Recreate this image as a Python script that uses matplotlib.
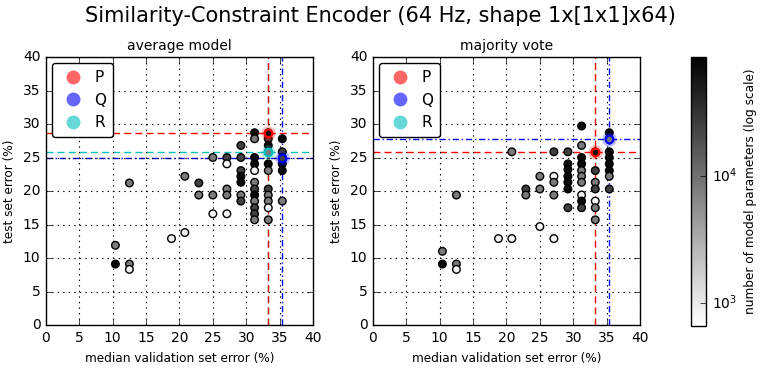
import numpy as np
import matplotlib
matplotlib.use("Agg")
import matplotlib.pyplot as plt
from matplotlib.colors import LogNorm
from matplotlib.lines import Line2D

plt.style.use("classic")
plt.rcParams["figure.facecolor"] = "white"
plt.rcParams["savefig.facecolor"] = "white"

# parameter counts used for grey shade (log scale)
W, G, D, B = 800, 8200, 25000, 70000

# average model: validation error, test error, #params
AVG_X = [10.4, 10.4, 12.5, 12.5, 12.5, 18.8, 20.8, 20.8,
         22.9, 22.9,
         25.0, 25.0, 25.0,
         27.1, 27.1, 27.1, 27.1, 27.1,
         29.2, 29.2, 29.2, 29.2, 29.2, 29.2, 29.2,
         31.25, 31.25, 31.25, 31.25, 31.25, 31.25, 31.25, 31.25, 31.25, 31.25, 31.25, 31.25,
         33.3, 33.3, 33.3, 33.3, 33.3, 33.3, 33.3, 33.3, 33.3, 33.3, 33.3,
         35.4, 35.4, 35.4, 35.4, 35.4, 35.4]
AVG_Y = [11.9, 9.1, 9.1, 8.3, 21.2, 12.9, 13.8, 22.2,
         21.2, 19.4,
         25.0, 19.4, 16.6,
         25.0, 24.05, 20.3, 19.4, 16.6,
         26.8, 25.0, 23.05, 22.2, 21.3, 19.4, 18.5,
         28.7, 27.8, 25.0, 24.05, 23.05, 21.3, 20.3, 19.4, 18.5, 17.5, 16.6, 15.7,
         28.7, 27.8, 26.8, 25.85, 24.05, 23.05, 20.3, 19.4, 18.5, 17.5, 15.7,
         27.8, 25.85, 25.0, 24.05, 23.05, 18.5]
AVG_P = [G, B, G, W, G, W, W, G,
         D, G,
         G, G, W,
         D, W, G, G, W,
         D, D, D, B, B, G, D,
         B, G, B, B, W, G, D, B, G, D, D, G,
         B, D, B, G, B, G, D, G, G, W, G,
         B, D, D, B, B, G]
# selected models, drawn in this order (last on top)
AVG_SEL = [("R", 33.3, 25.85, G), ("Q", 35.4, 25.0, D), ("P", 33.3, 28.7, B)]

# majority vote
MAJ_X = [10.4, 10.4, 12.5, 12.5, 12.5, 18.8, 20.8, 20.8,
         22.9, 22.9,
         25.0, 25.0, 25.0,
         27.1, 27.1, 27.1, 27.1, 27.1,
         29.2, 29.2, 29.2, 29.2, 29.2, 29.2, 29.2,
         31.25, 31.25, 31.25, 31.25, 31.25, 31.25, 31.25, 31.25, 31.25, 31.25,
         33.3, 33.3, 33.3, 33.3, 33.3, 33.3, 33.3,
         35.4, 35.4, 35.4, 35.4, 35.4, 35.4, 35.4, 35.4]
MAJ_Y = [11.0, 9.1, 9.1, 8.3, 19.4, 12.9, 25.85, 12.9,
         20.3, 19.4,
         22.2, 20.3, 14.7,
         25.85, 22.2, 21.3, 19.4, 12.9,
         25.85, 24.05, 23.2, 22.2, 21.3, 20.3, 17.5,
         29.7, 26.8, 25.0, 24.05, 23.05, 22.2, 21.3, 19.4, 18.5, 17.5,
         25.85, 23.05, 21.3, 20.3, 18.5, 17.5, 15.7,
         28.7, 27.8, 25.85, 25.0, 24.05, 23.05, 22.2, 20.3]
MAJ_P = [G, B, G, W, G, W, G, W,
         D, G,
         G, G, W,
         D, W, G, G, W,
         D, B, B, B, B, B, D,
         B, G, B, B, G, G, G, W, B, D,
         B, D, G, D, W, G, G,
         B, G, B, B, B, B, G, D]
# R coincides with P here, hidden under it
MAJ_SEL = [("Q", 35.4, 27.8, G), ("P", 33.3, 25.85, B)]

SEL_STYLE = {"P": ("r", (5, 3)), "Q": ("b", (4.5, 2, 1, 2)), "R": ("c", (5, 3))}

VMIN, VMAX = 660, 85000
norm = LogNorm(VMIN, VMAX)
cmap = plt.get_cmap("gray_r")

fig = plt.figure(figsize=(7.61, 3.69), dpi=100)
ax1 = fig.add_axes([0.0604, 0.1192, 0.3509, 0.7263])
ax2 = fig.add_axes([0.4901, 0.1192, 0.3509, 0.7263])
cax = fig.add_axes([0.908, 0.1165, 0.0197, 0.729])


def draw(ax, xs, ys, ps, sel, title):
    sc = ax.scatter(xs, ys, c=ps, cmap=cmap, norm=norm, s=30,
                    edgecolors="k", linewidths=1, zorder=3)
    for i, (key, x, y, p) in enumerate(sel):
        col, dash = SEL_STYLE[key]
        ax.axhline(y, color=col, dashes=dash, lw=1, zorder=2 + 0.01 * i)
        ax.axvline(x, color=col, dashes=dash, lw=1, zorder=2 + 0.01 * i)
        ax.scatter([x], [y], s=110, color=col, alpha=0.25, lw=0, zorder=4 + i)
        ax.scatter([x], [y], c=[p], cmap=cmap, norm=norm, s=30,
                   edgecolors=col, linewidths=1.6, zorder=4.5 + i)
    ax.set_xlim(0, 40)
    ax.set_ylim(0, 40)
    ax.set_xticks(np.arange(0, 41, 5))
    ax.set_yticks(np.arange(0, 41, 5))
    ax.grid(True, ls=":", color="k", lw=0.8)
    ax.tick_params(labelsize=10)
    ax.set_title(title, fontsize=10, y=1.0)
    ax.set_xlabel("median validation set error (%)", fontsize=8.7)
    ax.set_ylabel("test set error (%)", fontsize=8.7)
    handles = [Line2D([], [], ls="none", marker="o", ms=10, mew=0,
                      color=SEL_STYLE[k][0], alpha=0.6) for k in "PQR"]
    ax.legend(handles, list("PQR"), loc="upper left", numpoints=1,
              fancybox=True, fontsize=11, handletextpad=0.4,
              borderpad=0.45, labelspacing=0.5, handlelength=1.9,
              borderaxespad=0.4)
    return sc


sc = draw(ax1, AVG_X, AVG_Y, AVG_P, AVG_SEL, "average model")
draw(ax2, MAJ_X, MAJ_Y, MAJ_P, MAJ_SEL, "majority vote")

cb = fig.colorbar(sc, cax=cax)
cb.set_label("number of model parameters (log scale)", fontsize=8.7)
cb.ax.tick_params(labelsize=10)
cb.ax.minorticks_off()

fig.suptitle("Similarity-Constraint Encoder (64 Hz, shape 1x[1x1]x64)",
             fontsize=15, y=0.985)

fig.savefig("out.png", dpi=100)
